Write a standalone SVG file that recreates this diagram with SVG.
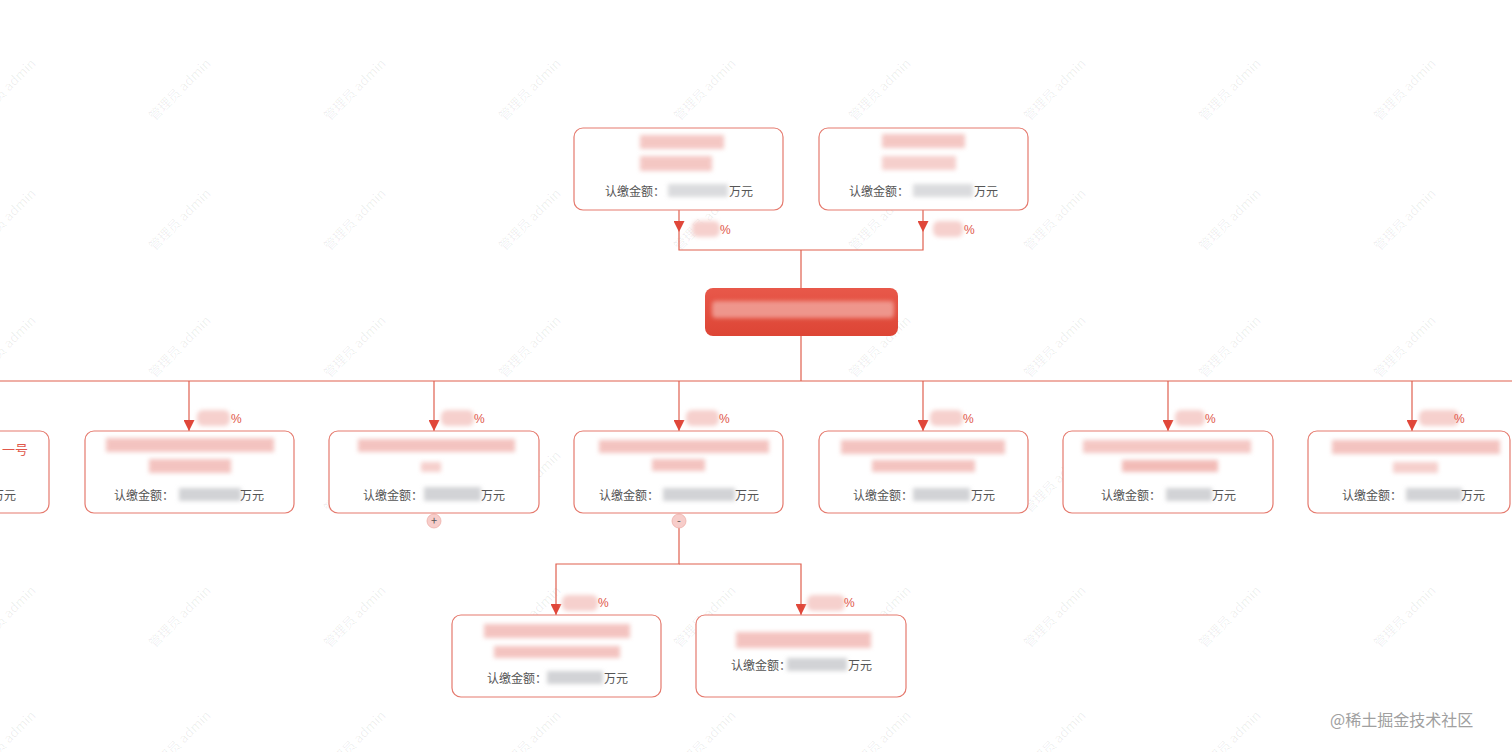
<svg xmlns="http://www.w3.org/2000/svg" width="1512" height="752" viewBox="0 0 1512 752">
<defs>
<style>
.box{fill:#fff;stroke:#e57a6e;stroke-width:1.2}
.ln{fill:none;stroke:#e0604f;stroke-width:1.2}
.lbl{font-family:"Noto Sans CJK SC","Noto Sans",sans-serif;font-size:12px;fill:#555}
.pct{font-family:"Liberation Sans","Noto Sans CJK SC",sans-serif;font-size:12px;fill:#e0574a}
.red{font-family:"Noto Sans CJK SC",sans-serif;font-size:13px;fill:#e0574a}
.wm{font-family:"Noto Sans CJK SC","Liberation Sans",sans-serif;font-size:13px;fill:#000;fill-opacity:0.07}
.pk{fill:#f0b0ab;filter:url(#b)}
.pkl{fill:#f6d0cd;filter:url(#b)}
.gy{fill:#d2d3d6;filter:url(#b)}
.btn{fill:#f7cdca;stroke:#eeb0aa;stroke-width:0.8}
</style>
<filter id="b" x="-20%" y="-50%" width="140%" height="200%"><feGaussianBlur stdDeviation="2"/></filter>
<linearGradient id="rg" x1="0" y1="0" x2="0" y2="1">
<stop offset="0" stop-color="#e8584a"/>
<stop offset="1" stop-color="#dd4535"/>
</linearGradient>
<marker id="arr" viewBox="0 0 10 10" refX="10" refY="5" markerWidth="11" markerHeight="11" markerUnits="userSpaceOnUse" orient="auto">
<path d="M0,0 L10,5 L0,10 z" fill="#e0473a"/>
</marker>
</defs>
<rect width="1512" height="752" fill="#fff"/>

<g id="watermarks">
<g transform="translate(8,93) rotate(-45)"><text class="wm" text-anchor="middle">管理员 admin</text></g>
<g transform="translate(183,93) rotate(-45)"><text class="wm" text-anchor="middle">管理员 admin</text></g>
<g transform="translate(358,93) rotate(-45)"><text class="wm" text-anchor="middle">管理员 admin</text></g>
<g transform="translate(533,93) rotate(-45)"><text class="wm" text-anchor="middle">管理员 admin</text></g>
<g transform="translate(708,93) rotate(-45)"><text class="wm" text-anchor="middle">管理员 admin</text></g>
<g transform="translate(883,93) rotate(-45)"><text class="wm" text-anchor="middle">管理员 admin</text></g>
<g transform="translate(1058,93) rotate(-45)"><text class="wm" text-anchor="middle">管理员 admin</text></g>
<g transform="translate(1233,93) rotate(-45)"><text class="wm" text-anchor="middle">管理员 admin</text></g>
<g transform="translate(1408,93) rotate(-45)"><text class="wm" text-anchor="middle">管理员 admin</text></g>
<g transform="translate(8,223) rotate(-45)"><text class="wm" text-anchor="middle">管理员 admin</text></g>
<g transform="translate(183,223) rotate(-45)"><text class="wm" text-anchor="middle">管理员 admin</text></g>
<g transform="translate(358,223) rotate(-45)"><text class="wm" text-anchor="middle">管理员 admin</text></g>
<g transform="translate(533,223) rotate(-45)"><text class="wm" text-anchor="middle">管理员 admin</text></g>
<g transform="translate(708,223) rotate(-45)"><text class="wm" text-anchor="middle">管理员 admin</text></g>
<g transform="translate(883,223) rotate(-45)"><text class="wm" text-anchor="middle">管理员 admin</text></g>
<g transform="translate(1058,223) rotate(-45)"><text class="wm" text-anchor="middle">管理员 admin</text></g>
<g transform="translate(1233,223) rotate(-45)"><text class="wm" text-anchor="middle">管理员 admin</text></g>
<g transform="translate(1408,223) rotate(-45)"><text class="wm" text-anchor="middle">管理员 admin</text></g>
<g transform="translate(8,350) rotate(-45)"><text class="wm" text-anchor="middle">管理员 admin</text></g>
<g transform="translate(183,350) rotate(-45)"><text class="wm" text-anchor="middle">管理员 admin</text></g>
<g transform="translate(358,350) rotate(-45)"><text class="wm" text-anchor="middle">管理员 admin</text></g>
<g transform="translate(533,350) rotate(-45)"><text class="wm" text-anchor="middle">管理员 admin</text></g>
<g transform="translate(883,350) rotate(-45)"><text class="wm" text-anchor="middle">管理员 admin</text></g>
<g transform="translate(1058,350) rotate(-45)"><text class="wm" text-anchor="middle">管理员 admin</text></g>
<g transform="translate(1233,350) rotate(-45)"><text class="wm" text-anchor="middle">管理员 admin</text></g>
<g transform="translate(1408,350) rotate(-45)"><text class="wm" text-anchor="middle">管理员 admin</text></g>
<g transform="translate(8,485) rotate(-45)"><text class="wm" text-anchor="middle">管理员 admin</text></g>
<g transform="translate(183,485) rotate(-45)"><text class="wm" text-anchor="middle">管理员 admin</text></g>
<g transform="translate(358,485) rotate(-45)"><text class="wm" text-anchor="middle">管理员 admin</text></g>
<g transform="translate(533,485) rotate(-45)"><text class="wm" text-anchor="middle">管理员 admin</text></g>
<g transform="translate(708,485) rotate(-45)"><text class="wm" text-anchor="middle">管理员 admin</text></g>
<g transform="translate(883,485) rotate(-45)"><text class="wm" text-anchor="middle">管理员 admin</text></g>
<g transform="translate(1058,485) rotate(-45)"><text class="wm" text-anchor="middle">管理员 admin</text></g>
<g transform="translate(1233,485) rotate(-45)"><text class="wm" text-anchor="middle">管理员 admin</text></g>
<g transform="translate(1408,485) rotate(-45)"><text class="wm" text-anchor="middle">管理员 admin</text></g>
<g transform="translate(8,620) rotate(-45)"><text class="wm" text-anchor="middle">管理员 admin</text></g>
<g transform="translate(183,620) rotate(-45)"><text class="wm" text-anchor="middle">管理员 admin</text></g>
<g transform="translate(358,620) rotate(-45)"><text class="wm" text-anchor="middle">管理员 admin</text></g>
<g transform="translate(533,620) rotate(-45)"><text class="wm" text-anchor="middle">管理员 admin</text></g>
<g transform="translate(708,620) rotate(-45)"><text class="wm" text-anchor="middle">管理员 admin</text></g>
<g transform="translate(883,620) rotate(-45)"><text class="wm" text-anchor="middle">管理员 admin</text></g>
<g transform="translate(1058,620) rotate(-45)"><text class="wm" text-anchor="middle">管理员 admin</text></g>
<g transform="translate(1233,620) rotate(-45)"><text class="wm" text-anchor="middle">管理员 admin</text></g>
<g transform="translate(1408,620) rotate(-45)"><text class="wm" text-anchor="middle">管理员 admin</text></g>
<g transform="translate(8,745) rotate(-45)"><text class="wm" text-anchor="middle">管理员 admin</text></g>
<g transform="translate(183,745) rotate(-45)"><text class="wm" text-anchor="middle">管理员 admin</text></g>
<g transform="translate(358,745) rotate(-45)"><text class="wm" text-anchor="middle">管理员 admin</text></g>
<g transform="translate(533,745) rotate(-45)"><text class="wm" text-anchor="middle">管理员 admin</text></g>
<g transform="translate(708,745) rotate(-45)"><text class="wm" text-anchor="middle">管理员 admin</text></g>
<g transform="translate(883,745) rotate(-45)"><text class="wm" text-anchor="middle">管理员 admin</text></g>
<g transform="translate(1058,745) rotate(-45)"><text class="wm" text-anchor="middle">管理员 admin</text></g>
<g transform="translate(1233,745) rotate(-45)"><text class="wm" text-anchor="middle">管理员 admin</text></g>
</g>

<g id="connectors">
<path class="ln" d="M679,210 V232" marker-end="url(#arr)"/>
<path class="ln" d="M923,210 V232" marker-end="url(#arr)"/>
<path class="ln" d="M679,232 V250 H923 V232 M801,250 V288"/>
<path class="ln" d="M801,336 V381 M0,381 H1512"/>
<path class="ln" d="M189,381 V431" marker-end="url(#arr)"/>
<path class="ln" d="M434,381 V431" marker-end="url(#arr)"/>
<path class="ln" d="M679,381 V431" marker-end="url(#arr)"/>
<path class="ln" d="M923,381 V431" marker-end="url(#arr)"/>
<path class="ln" d="M1168,381 V431" marker-end="url(#arr)"/>
<path class="ln" d="M1412,381 V431" marker-end="url(#arr)"/>
<path class="ln" d="M679,528 V564 H556 V615" marker-end="url(#arr)"/>
<path class="ln" d="M679,564 H801 V615" marker-end="url(#arr)"/>
<g id="pct-labels">
<rect class="pkl" x="692" y="221" width="28" height="16" rx="6"/><text class="pct" x="720" y="234">%</text>
<rect class="pkl" x="933" y="221" width="30" height="16" rx="6"/><text class="pct" x="964" y="234">%</text>
<rect class="pkl" x="197" y="410" width="33" height="16" rx="6"/><text class="pct" x="231" y="423">%</text>
<rect class="pkl" x="441" y="410" width="33" height="16" rx="6"/><text class="pct" x="474" y="423">%</text>
<rect class="pkl" x="686" y="410" width="33" height="16" rx="6"/><text class="pct" x="719" y="423">%</text>
<rect class="pkl" x="930" y="410" width="33" height="16" rx="6"/><text class="pct" x="963" y="423">%</text>
<rect class="pkl" x="1175" y="410" width="30" height="16" rx="6"/><text class="pct" x="1205" y="423">%</text>
<rect class="pkl" x="1419" y="410" width="40" height="16" rx="6"/><text class="pct" x="1454" y="423">%</text>
<rect class="pkl" x="562" y="595" width="36" height="16" rx="6"/><text class="pct" x="598" y="607">%</text>
<rect class="pkl" x="807" y="595" width="38" height="16" rx="6"/><text class="pct" x="844" y="607">%</text>
</g>
<g id="toggles">
<circle class="btn" cx="434" cy="521" r="7"/><text class="lbl" x="434" y="525" text-anchor="middle" style="font-size:11px">+</text>
<circle class="btn" cx="679" cy="521" r="7"/><text class="lbl" x="679" y="525" text-anchor="middle" style="font-size:11px">-</text>
</g>
</g>

<g id="top1">
<rect class="box" x="574" y="128" width="209" height="82" rx="9"/>
<rect class="pk" x="640" y="135" width="84" height="14" opacity="0.7"/>
<rect class="pk" x="640" y="156" width="72" height="15" opacity="0.7"/>
<text class="lbl" x="605" y="196">认缴金额：</text>
<rect class="gy" x="668" y="184" width="60" height="13" opacity="0.8"/>
<text class="lbl" x="729" y="196">万元</text>
</g>
<g id="top2">
<rect class="box" x="819" y="128" width="209" height="82" rx="9"/>
<rect class="pk" x="882" y="134" width="83" height="14" opacity="0.7"/>
<rect class="pk" x="882" y="156" width="74" height="14" opacity="0.6"/>
<text class="lbl" x="849" y="196">认缴金额：</text>
<rect class="gy" x="913" y="184" width="60" height="13" opacity="0.8"/>
<text class="lbl" x="974" y="196">万元</text>
</g>

<g id="root">
<rect x="705" y="288" width="193" height="48" rx="8" fill="url(#rg)"/>
<rect x="712" y="301" width="182" height="17" rx="4" fill="#f1a39a" filter="url(#b)" opacity="0.85"/>
</g>

<g id="nodeL">
<rect class="box" x="-160" y="431" width="209" height="82" rx="9"/>
<text class="red" x="2" y="454">一号</text>
<text class="lbl" x="-8" y="500">万元</text>
</g>
<g id="nodeA">
<rect class="box" x="85" y="431" width="209" height="82" rx="9"/>
<rect class="pk" x="106" y="438" width="168" height="14" opacity="0.75"/>
<rect class="pk" x="149" y="459" width="82" height="14" opacity="0.75"/>
<text class="lbl" x="114" y="500">认缴金额：</text>
<rect class="gy" x="179" y="488" width="62" height="13"/>
<text class="lbl" x="240" y="500">万元</text>
</g>
<g id="nodeB">
<rect class="box" x="329" y="431" width="210" height="82" rx="9"/>
<rect class="pk" x="358" y="439" width="157" height="13" opacity="0.75"/>
<rect class="pk" x="421" y="462" width="20" height="10" opacity="0.6"/>
<text class="lbl" x="363" y="500">认缴金额：</text>
<rect class="gy" x="424" y="487" width="57" height="14"/>
<text class="lbl" x="481" y="500">万元</text>
</g>
<g id="nodeC">
<rect class="box" x="574" y="431" width="209" height="82" rx="9"/>
<rect class="pk" x="599" y="440" width="170" height="13" opacity="0.75"/>
<rect class="pk" x="652" y="459" width="53" height="12" opacity="0.75"/>
<text class="lbl" x="599" y="500">认缴金额：</text>
<rect class="gy" x="663" y="488" width="72" height="13"/>
<text class="lbl" x="735" y="500">万元</text>
</g>
<g id="nodeD">
<rect class="box" x="819" y="431" width="209" height="82" rx="9"/>
<rect class="pk" x="841" y="440" width="164" height="14" opacity="0.75"/>
<rect class="pk" x="872" y="460" width="103" height="12" opacity="0.75"/>
<text class="lbl" x="853" y="500">认缴金额：</text>
<rect class="gy" x="913" y="488" width="57" height="13"/>
<text class="lbl" x="971" y="500">万元</text>
</g>
<g id="nodeE">
<rect class="box" x="1063" y="431" width="210" height="82" rx="9"/>
<rect class="pk" x="1083" y="440" width="168" height="13" opacity="0.7"/>
<rect class="pk" x="1122" y="460" width="96" height="12" opacity="0.85"/>
<text class="lbl" x="1101" y="500">认缴金额：</text>
<rect class="gy" x="1166" y="488" width="46" height="13"/>
<text class="lbl" x="1212" y="500">万元</text>
</g>
<g id="nodeF">
<rect class="box" x="1308" y="431" width="202" height="82" rx="9"/>
<rect class="pk" x="1332" y="440" width="168" height="14" opacity="0.75"/>
<rect class="pk" x="1393" y="462" width="45" height="11" opacity="0.6"/>
<text class="lbl" x="1342" y="500">认缴金额：</text>
<rect class="gy" x="1406" y="488" width="56" height="13"/>
<text class="lbl" x="1461" y="500">万元</text>
</g>
<g id="nodeG">
<rect class="box" x="452" y="615" width="209" height="82" rx="9"/>
<rect class="pk" x="484" y="624" width="146" height="14" opacity="0.75"/>
<rect class="pk" x="494" y="646" width="126" height="12" opacity="0.75"/>
<text class="lbl" x="487" y="683">认缴金额：</text>
<rect class="gy" x="547" y="671" width="56" height="13"/>
<text class="lbl" x="604" y="683">万元</text>
</g>
<g id="nodeH">
<rect class="box" x="696" y="615" width="210" height="82" rx="9"/>
<rect class="pk" x="736" y="632" width="135" height="16" opacity="0.75"/>
<text class="lbl" x="731" y="670">认缴金额：</text>
<rect class="gy" x="787" y="658" width="60" height="13"/>
<text class="lbl" x="848" y="670">万元</text>
</g>

<text x="1330" y="726" style="font-family:'Noto Sans CJK SC',sans-serif;font-size:16px;fill:#a0a0a0">@稀土掘金技术社区</text>
</svg>
